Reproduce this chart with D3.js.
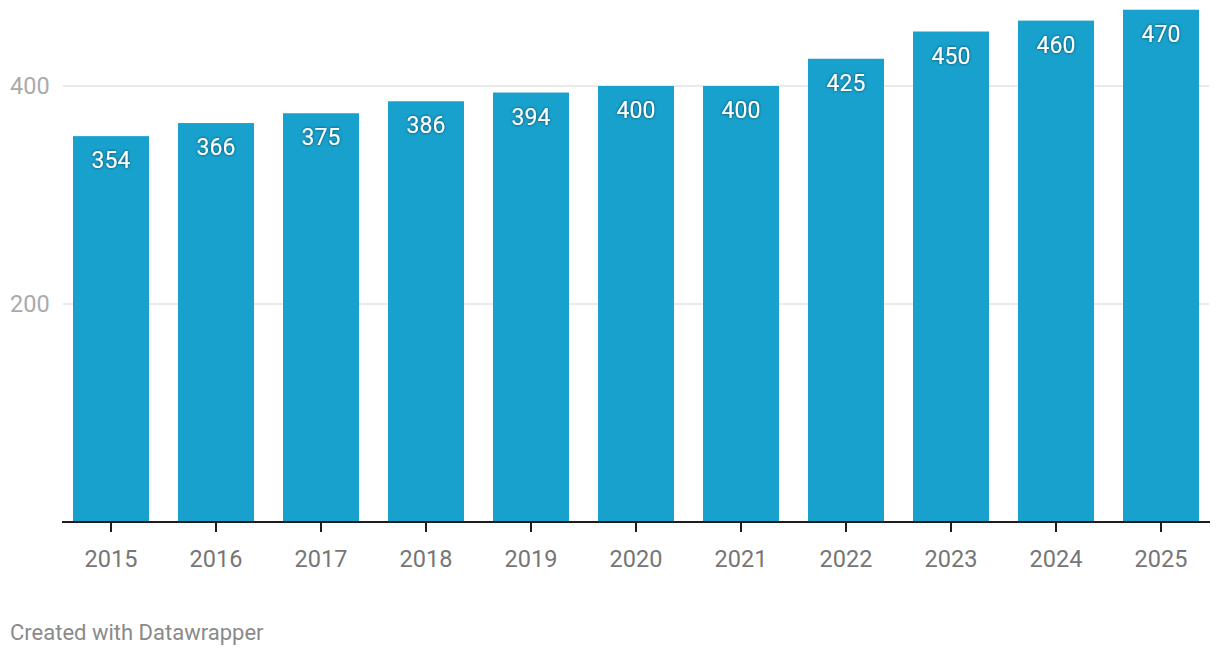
<!DOCTYPE html>
<html>
<head>
  <title>Bars by year</title>
  <script src="https://cdn.jsdelivr.net/npm/d3@7/dist/d3.min.js"></script>
  <style>
    body { margin: 0; background: #fff; }
    text { font-family: Roboto, sans-serif; }
  </style>
</head>
<body>
  <svg width="1220" height="656"></svg>
</body>
<script>

const years = ['2015', '2016', '2017', '2018', '2019', '2020', '2021', '2022', '2023', '2024', '2025'];
const values = [354, 366, 375, 386, 394, 400, 400, 425, 450, 460, 470];
const yTicks = [200, 400];

let svg = d3.select('svg');

let x = d3.scaleBand()
  .domain(years)
  .range([58.5, 1213.5])
  .paddingInner(0.2762)
  .paddingOuter(0.1381);

let y = d3.scaleLinear()
  .domain([0, 400])
  .range([522, 86]);

// gridlines + y labels
let grid = svg.append('g');
yTicks.forEach(t => {
  grid.append('line')
    .attr('x1', 63).attr('x2', 1209)
    .attr('y1', y(t)).attr('y2', y(t))
    .style('stroke', '#e3e3e3')
    .style('stroke-width', 1.5);
  grid.append('text')
    .attr('x', 10)
    .attr('y', y(t))
    .attr('dy', '0.35em')
    .style('font-size', '23.5px')
    .style('fill', '#aaaaaa')
    .text(t);
});

let defs = svg.append('defs');
let f = defs.append('filter').attr('id', 'shadow').attr('x', '-20%').attr('y', '-20%').attr('width', '140%').attr('height', '140%');
f.append('feDropShadow').attr('dx', 0).attr('dy', 0).attr('stdDeviation', 1.5)
  .attr('flood-color', '#000').attr('flood-opacity', 0.6);

// bars
svg.append('g').selectAll('rect')
  .data(years)
  .join('rect')
  .attr('x', d => x(d))
  .attr('y', (d, i) => y(values[i]))
  .attr('width', x.bandwidth())
  .attr('height', (d, i) => y(0) - y(values[i]))
  .style('fill', '#18a1cd');

// value labels
svg.append('g').selectAll('text')
  .data(years)
  .join('text')
  .attr('x', d => x(d) + x.bandwidth() / 2)
  .attr('y', (d, i) => y(values[i]) + 32)
  .attr('text-anchor', 'middle')
  .attr('filter', 'url(#shadow)')
  .style('font-size', '23px')
  .style('fill', '#ffffff')
  .text((d, i) => values[i]);

// x axis
let xAxis = svg.append('g');
xAxis.append('line')
  .attr('x1', 62).attr('x2', 1210)
  .attr('y1', 522).attr('y2', 522)
  .style('stroke', '#1d1d1d')
  .style('stroke-width', 2);

years.forEach(yr => {
  let cx = x(yr) + x.bandwidth() / 2;
  xAxis.append('line')
    .attr('x1', cx).attr('x2', cx)
    .attr('y1', 522).attr('y2', 532)
    .style('stroke', '#1d1d1d')
    .style('stroke-width', 2);
  xAxis.append('text')
    .attr('x', cx)
    .attr('y', 567)
    .attr('text-anchor', 'middle')
    .style('font-size', '23.5px')
    .style('fill', '#767676')
    .text(yr);
});

svg.append('text')
  .attr('x', 10)
  .attr('y', 640)
  .style('font-size', '22px')
  .style('fill', '#8a8a8a')
  .text('Created with Datawrapper');

</script>
</html>
